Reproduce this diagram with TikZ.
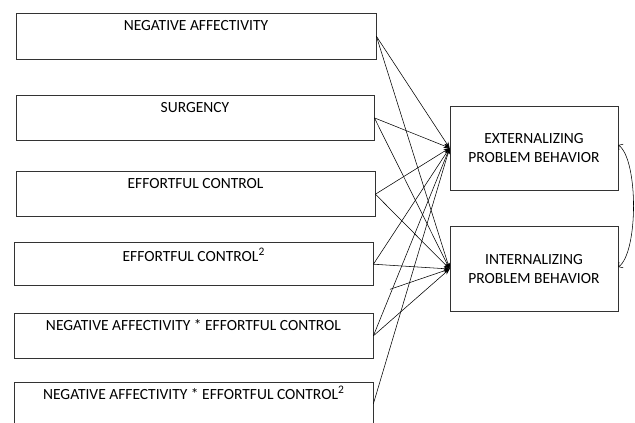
\documentclass[tikz,border=0pt]{standalone}
\usepackage{fontspec}
\setmainfont{Carlito}
\usetikzlibrary{arrows.meta}
\newcommand\suptwo{\raisebox{5.8pt}{\fontsize{11.5pt}{11.5pt}\selectfont 2}}
\begin{document}
\begin{tikzpicture}[x=1pt,y=-1pt,
  box/.style={draw=black!80, line width=0.8pt, inner sep=0pt},
  lbl/.style={inner sep=0pt, font=\fontsize{15.5pt}{19pt}\selectfont},
  outbox/.style={draw=black!80, line width=0.8pt, inner sep=0pt, align=center,
    minimum width=168pt, minimum height=84pt, font=\fontsize{15.5pt}{19pt}\selectfont},
  arr/.style={line width=0.55pt, -{Stealth[length=6pt,width=4.5pt]}},
  dbl/.style={line width=0.55pt, {Straight Barb[length=3pt,width=7pt]}-{Straight Barb[length=3pt,width=7pt]}}]
\clip (0,0) rectangle (635,423);
% predictor boxes
\node[box, minimum width=360pt, minimum height=46pt]   (b1) at (196,36.3) {};
\node[box, minimum width=358pt, minimum height=45.7pt] (b2) at (195,117.9) {};
\node[box, minimum width=359pt, minimum height=45pt]   (b3) at (195.5,194.2) {};
\node[box, minimum width=359pt, minimum height=43.3pt] (b4) at (193.5,264.2) {};
\node[box, minimum width=359pt, minimum height=45pt]   (b5) at (193.5,335.8) {};
\node[box, minimum width=359pt, minimum height=42pt]   (b6) at (193.5,403.7) {};
% labels
\node[lbl, anchor=base] (t1) at ([yshift=-17.4pt]b1.north) {NEGATIVE AFFECTIVITY};
\node[lbl, anchor=base] (t2) at ([yshift=-17.4pt]b2.north) {SURGENCY};
\node[lbl, anchor=base] (t3) at ([yshift=-17.4pt]b3.north) {EFFORTFUL CONTROL};
\node[lbl, anchor=base] (t4) at ([yshift=-19.4pt]b4.north) {EFFORTFUL CONTROL\suptwo};
\node[lbl, anchor=base] (t5) at ([yshift=-17.4pt]b5.north) {NEGATIVE AFFECTIVITY * EFFORTFUL CONTROL};
\node[lbl, anchor=base] (t6) at ([yshift=-17.3pt]b6.north) {NEGATIVE AFFECTIVITY * EFFORTFUL CONTROL\suptwo};
% outcome boxes
\node[outbox] (ext) at (534,148) {EXTERNALIZING\\PROBLEM BEHAVIOR};
\node[outbox, minimum height=84.8pt] (int) at (534,269) {INTERNALIZING\\PROBLEM BEHAVIOR};
% paths
\foreach \b in {b1,b2,b3,b4,b5,b6} \draw[arr] (\b.east) -- (ext.west);
\foreach \b in {b1,b2,b3,b4,b5} \draw[arr] (\b.east) -- (int.west);
\coordinate (free) at (390,289.3);
\draw[arr] (free) -- (int.west);
% covariance
\draw[dbl] ([yshift=3pt]ext.east) .. controls +(20pt,-15pt) and +(20pt,15pt) .. ([yshift=2pt]int.east);
\end{tikzpicture}
\end{document}
